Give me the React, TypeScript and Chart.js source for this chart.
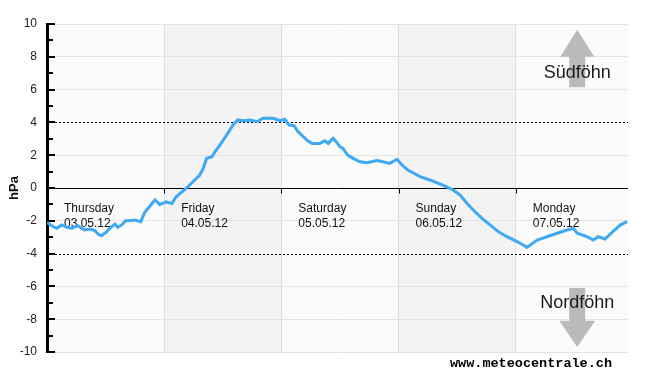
import React, { useEffect, useRef } from "react";
import { Chart, registerables } from "chart.js";

Chart.register(...registerables);

// Hours since Thursday 03.05.12 00:00
const HOURS = [0,1.2,2.0,3.0,4.1,5.1,6.3,7.7,8.8,9.8,
  10.6,11.2,12.1,12.9,13.9,14.5,15.3,16.1,16.9,18.0,
  19.2,20.0,21.1,22.1,23.1,24.4,25.6,26.4,27.4,28.6,
  29.9,31.3,32.0,32.7,33.8,34.4,35.4,36.8,38.1,39.1,
  40.1,41.6,43.0,44.2,46.3,47.7,48.7,49.6,50.6,51.4,
  51.8,53.2,54.3,55.9,56.9,57.6,58.6,59.4,60.0,60.6,
  61.6,62.7,64.1,65.5,67.6,68.8,70.2,71.7,72.7,73.9,
  75.8,76.4,78.4,81.1,83.2,84.6,86.0,87.3,89.1,90.8,
  92.4,94.2,96.3,97.9,98.3,100.4,102.4,104.5,106.5,107.8,
  108.6,110.6,111.9,112.9,114.3,115.9,117.4,118.8];

// Pressure difference (hPa)
const PRESSURE = [-2.1,-2.35,-2.45,-2.25,-2.4,-2.45,-2.3,-2.55,-2.5,-2.6,
  -2.85,-2.9,-2.7,-2.45,-2.2,-2.4,-2.25,-2.0,-2.0,-1.95,
  -2.05,-1.5,-1.1,-0.73,-1.0,-0.85,-0.95,-0.55,-0.3,0.0,
  0.38,0.79,1.2,1.81,1.91,2.21,2.62,3.23,3.84,4.15,
  4.1,4.15,4.04,4.25,4.25,4.1,4.19,3.84,3.8,3.43,
  3.33,2.93,2.72,2.72,2.88,2.72,3.03,2.76,2.52,2.42,
  2.01,1.81,1.6,1.54,1.67,1.6,1.5,1.75,1.4,1.1,
  0.79,0.69,0.49,0.18,-0.12,-0.43,-0.93,-1.34,-1.85,-2.26,
  -2.66,-2.97,-3.27,-3.54,-3.62,-3.17,-2.97,-2.76,-2.56,-2.46,
  -2.76,-2.97,-3.17,-2.97,-3.11,-2.66,-2.26,-2.05];

const DAY_NAMES = ["Thursday", "Friday", "Saturday", "Sunday", "Monday"];
const DAY_DATES = ["03.05.12", "04.05.12", "05.05.12", "06.05.12", "07.05.12"];
const SHADED_DAYS = [1, 3];
const THRESHOLDS = [4, -4];
const X_MAX = 119;
const Y_MIN = -10;
const Y_MAX = 10;
const UP_LABEL = "Südföhn";
const DOWN_LABEL = "Nordföhn";
const WATERMARK = "www.meteocentrale.ch";

const FONT = "'Liberation Sans', Arial, sans-serif";

const decor = {
  id: "meteoDecor",
  beforeDraw(chart: any) {
    const { ctx, chartArea: a, scales } = chart;
    const x = scales.x;
    ctx.save();
    ctx.fillStyle = "#fbfbfb";
    ctx.fillRect(a.left, a.top, a.right - a.left, a.bottom - a.top);
    ctx.fillStyle = "#f3f3f3";
    SHADED_DAYS.forEach((d) => {
      const x0 = x.getPixelForValue(d * 24);
      const x1 = x.getPixelForValue(Math.min((d + 1) * 24, X_MAX));
      ctx.fillRect(x0, a.top, x1 - x0, a.bottom - a.top);
    });
    ctx.restore();
  },
  beforeDatasetsDraw(chart: any) {
    const { ctx, chartArea: a, scales } = chart;
    const x = scales.x;
    const y = scales.y;
    ctx.save();
    // threshold dotted lines
    ctx.strokeStyle = "#000";
    ctx.lineWidth = 1;
    ctx.setLineDash([2, 2]);
    THRESHOLDS.forEach((v) => {
      const py = Math.round(y.getPixelForValue(v)) + 0.5;
      ctx.beginPath();
      ctx.moveTo(a.left, py);
      ctx.lineTo(a.right, py);
      ctx.stroke();
    });
    ctx.setLineDash([]);
    // zero line
    const zy = Math.round(y.getPixelForValue(0)) + 0.5;
    ctx.beginPath();
    ctx.moveTo(a.left, zy);
    ctx.lineTo(a.right, zy);
    ctx.stroke();
    // day ticks on zero line
    for (let d = 1; d < DAY_NAMES.length; d++) {
      const px = Math.round(x.getPixelForValue(d * 24)) + 0.5;
      ctx.beginPath();
      ctx.moveTo(px, zy);
      ctx.lineTo(px, zy + 5);
      ctx.stroke();
    }
    // y axis ticks (major + minor)
    const ax = a.left + 1;
    ctx.lineWidth = 2;
    for (let v = Y_MIN; v <= Y_MAX; v++) {
      const py = Math.round(y.getPixelForValue(v));
      const len = v % 2 === 0 ? 7 : 5;
      ctx.beginPath();
      ctx.moveTo(ax, py);
      ctx.lineTo(ax + len, py);
      ctx.stroke();
    }
    // day labels
    ctx.fillStyle = "#111";
    ctx.font = `12px ${FONT}`;
    ctx.textAlign = "left";
    ctx.textBaseline = "middle";
    DAY_NAMES.forEach((name, i) => {
      const px = x.getPixelForValue(i * 24) + 17;
      ctx.fillText(name, px, zy + 20);
      ctx.fillText(DAY_DATES[i], px, zy + 35);
    });
    // arrows
    const cx = x.getPixelForValue(108.6);
    ctx.fillStyle = "#bababa";
    // up arrow
    const tipU = y.getPixelForValue(9.65);
    const baseU = y.getPixelForValue(8.0);
    const endU = y.getPixelForValue(6.15);
    ctx.beginPath();
    ctx.moveTo(cx, tipU);
    ctx.lineTo(cx + 17, baseU);
    ctx.lineTo(cx + 8, baseU);
    ctx.lineTo(cx + 8, endU);
    ctx.lineTo(cx - 8, endU);
    ctx.lineTo(cx - 8, baseU);
    ctx.lineTo(cx - 17, baseU);
    ctx.closePath();
    ctx.fill();
    // down arrow
    const startD = y.getPixelForValue(-6.1);
    const baseD = y.getPixelForValue(-8.1);
    const tipD = y.getPixelForValue(-9.7);
    ctx.beginPath();
    ctx.moveTo(cx - 8, startD);
    ctx.lineTo(cx + 8, startD);
    ctx.lineTo(cx + 8, baseD);
    ctx.lineTo(cx + 18, baseD);
    ctx.lineTo(cx, tipD);
    ctx.lineTo(cx - 18, baseD);
    ctx.lineTo(cx - 8, baseD);
    ctx.closePath();
    ctx.fill();
    ctx.fillStyle = "#1a1a1a";
    ctx.font = `18px ${FONT}`;
    ctx.textAlign = "center";
    ctx.textBaseline = "middle";
    ctx.fillText(UP_LABEL, cx, y.getPixelForValue(7.0));
    ctx.fillText(DOWN_LABEL, cx, y.getPixelForValue(-7.0));
    // watermark
    ctx.fillStyle = "#000";
    ctx.font = `bold 13.5px 'Liberation Mono', 'Courier New', monospace`;
    ctx.textAlign = "right";
    ctx.textBaseline = "alphabetic";
    ctx.fillText(WATERMARK, a.right - 16, a.bottom + 15);
    ctx.restore();
  },
};

export default function App() {
  const ref = useRef<HTMLCanvasElement>(null);
  useEffect(() => {
    if (!ref.current) return;
    const points = HOURS.map((h, i) => ({ x: h, y: PRESSURE[i] }));
    const chart = new Chart(ref.current, {
      type: "line",
      data: {
        datasets: [
          {
            data: points,
            borderColor: "#3fa9f5",
            borderWidth: 3,
            pointRadius: 0,
            tension: 0,
            fill: false,
          },
        ],
      },
      options: {
        animation: false,
        responsive: false,
        maintainAspectRatio: false,
        layout: { padding: { top: 24, right: 22, bottom: 23, left: 0 } },
        plugins: { legend: { display: false }, tooltip: { enabled: false } },
        scales: {
          x: {
            type: "linear",
            min: 0,
            max: X_MAX,
            afterFit: (s: any) => {
              s.height = 0;
            },
            ticks: { display: false, stepSize: 24 },
            grid: {
              lineWidth: 1,
              drawTicks: false,
              color: (c: any) =>
                c.tick && c.tick.value % 24 === 0 ? "#dddddd" : "rgba(0,0,0,0)",
            },
            border: { display: false },
          },
          y: {
            min: Y_MIN,
            max: Y_MAX,
            afterFit: (s: any) => {
              s.width = 47;
            },
            ticks: {
              stepSize: 2,
              padding: 10,
              color: "#222",
              font: { size: 12, family: FONT },
            },
            grid: {
              drawTicks: false,
              lineWidth: 1,
              color: (c: any) =>
                c.tick && (c.tick.value === 0 || Math.abs(c.tick.value) === 4)
                  ? "rgba(0,0,0,0)"
                  : "#e4e4e4",
            },
            border: { display: true, color: "#000", width: 3 },
            title: {
              display: true,
              text: "hPa",
              color: "#111",
              font: { size: 13, weight: "bold", family: FONT },
              padding: { top: 7, bottom: 0 },
            },
          },
        },
      },
      plugins: [decor],
    });
    return () => chart.destroy();
  }, []);
  return (
    <div style={{ position: "absolute", left: 0, top: 0, width: 650, height: 375, background: "#fff" }}>
      <canvas ref={ref} width={650} height={375} style={{ width: 650, height: 375 }} />
    </div>
  );
}
